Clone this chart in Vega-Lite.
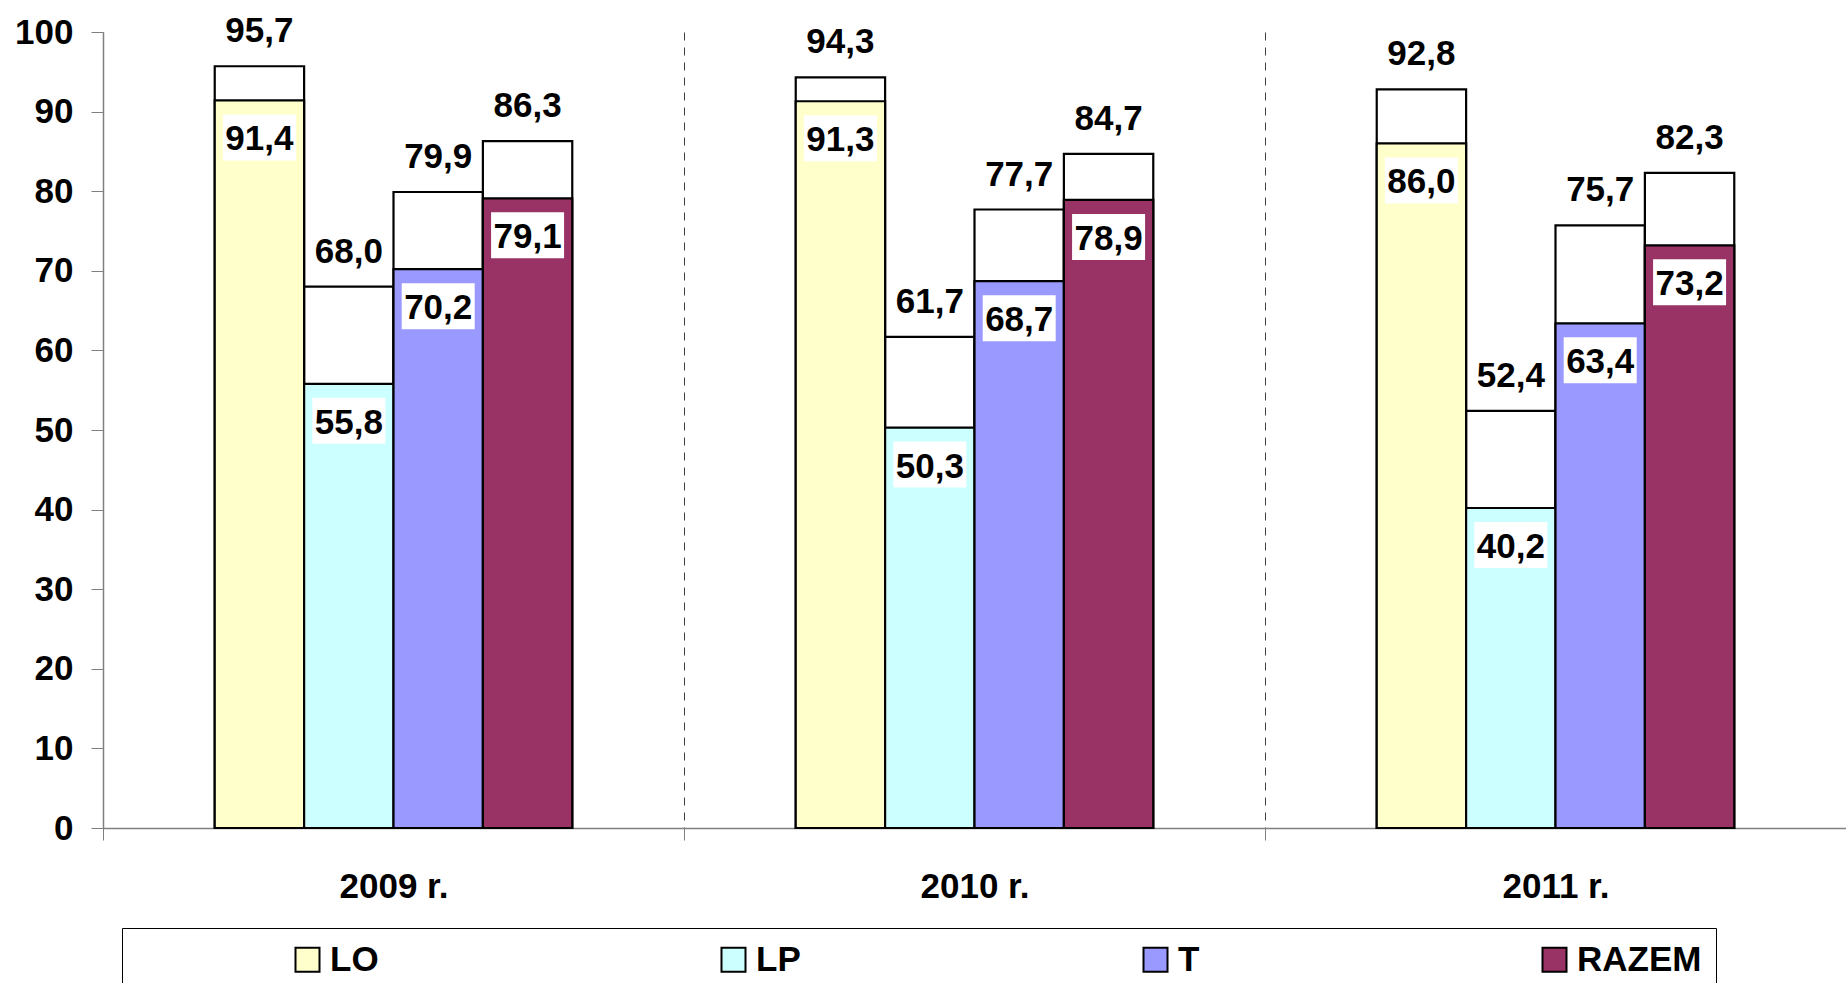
{
  "$schema": "https://vega.github.io/schema/vega-lite/v6.json",
  "autosize": {"type": "none"},
  "width": 1743,
  "height": 796,
  "padding": {"left": 103, "top": 32, "right": 0, "bottom": 155},
  "background": "white",
  "data": {"values": [
    {"year": "2009 r.", "cat": "LO", "low": 91.4, "high": 95.7},
    {"year": "2009 r.", "cat": "LP", "low": 55.8, "high": 68.0},
    {"year": "2009 r.", "cat": "T", "low": 70.2, "high": 79.9},
    {"year": "2009 r.", "cat": "RAZEM", "low": 79.1, "high": 86.3},
    {"year": "2010 r.", "cat": "LO", "low": 91.3, "high": 94.3},
    {"year": "2010 r.", "cat": "LP", "low": 50.3, "high": 61.7},
    {"year": "2010 r.", "cat": "T", "low": 68.7, "high": 77.7},
    {"year": "2010 r.", "cat": "RAZEM", "low": 78.9, "high": 84.7},
    {"year": "2011 r.", "cat": "LO", "low": 86.0, "high": 92.8},
    {"year": "2011 r.", "cat": "LP", "low": 40.2, "high": 52.4},
    {"year": "2011 r.", "cat": "T", "low": 63.4, "high": 75.7},
    {"year": "2011 r.", "cat": "RAZEM", "low": 73.2, "high": 82.3}
  ]},
  "encoding": {
    "x": {"field": "year", "type": "nominal", "title": null,
      "scale": {"paddingInner": 0, "paddingOuter": 0},
      "axis": {"labelAngle": 0, "tickBand": "extent", "grid": true, "gridDash": [8, 7], "gridColor": "#404040", "gridWidth": 1,
        "tickSize": 12, "tickColor": "#808080", "domainColor": "#808080", "domainWidth": 1.5, "labelPadding": 29,
        "labelFontSize": 35, "labelFontWeight": "bold", "labelColor": "black", "labelFont": "Liberation Sans"}},
    "xOffset": {"field": "cat", "type": "nominal",
      "scale": {"domain": ["_l", "LO", "LP", "T", "RAZEM", "_r"], "paddingInner": 0, "paddingOuter": 0.25}}
  },
  "layer": [
    {
      "mark": {"type": "bar", "fill": "white", "stroke": "black", "strokeWidth": 2.2},
      "encoding": {
        "y": {"field": "high", "type": "quantitative", "title": null,
          "scale": {"domain": [0, 100], "nice": false},
          "axis": {"values": [0, 10, 20, 30, 40, 50, 60, 70, 80, 90, 100], "grid": false, "tickSize": 12,
            "tickColor": "#808080", "domainColor": "#808080", "domainWidth": 1.5, "labelPadding": 18,
            "labelFontSize": 35, "labelFontWeight": "bold", "labelColor": "black", "labelFont": "Liberation Sans"}},
        "y2": {"datum": 0}
      }
    },
    {
      "mark": {"type": "bar", "stroke": "black", "strokeWidth": 2.2},
      "encoding": {
        "y": {"field": "low", "type": "quantitative"},
        "y2": {"datum": 0},
        "color": {"field": "cat", "type": "nominal",
          "scale": {"domain": ["LO", "LP", "T", "RAZEM"], "range": ["#FFFFCC", "#CCFFFF", "#9999FF", "#993366"]},
          "legend": {
            "title": " ", "titleOrient": "left", "titleFontSize": 1, "titlePadding": 154,
            "orient": "none", "legendX": 19, "legendY": 896, "direction": "horizontal", "columns": 4,
            "columnPadding": 337, "gridAlign": "each", "padding": 14,
            "strokeColor": "black", "fillColor": "white",
            "symbolType": "square", "symbolSize": 576, "symbolStrokeColor": "black", "symbolStrokeWidth": 2, "symbolOpacity": 1,
            "labelFontSize": 35, "labelFontWeight": "bold", "labelColor": "black", "labelFont": "Liberation Sans", "labelOffset": 5,
            "labelExpr": "datum.label == 'RAZEM' ? 'RAZEM\u00a0\u00a0\u00a0\u00a0\u00a0\u00a0\u00a0\u00a0\u00a0\u00a0\u00a0\u00a0\u00a0\u00a0\u00a0\u00a0\u00a0\u00a0' : datum.label"
          }}
      }
    },
    {
      "mark": {"type": "bar", "fill": "white", "width": 73, "yOffset": 14, "y2Offset": 60},
      "encoding": {
        "y": {"field": "low", "type": "quantitative"},
        "y2": {"field": "low"}
      }
    },
    {
      "mark": {"type": "text", "font": "Liberation Sans", "fontSize": 35, "fontWeight": "bold", "color": "black", "baseline": "alphabetic", "dy": 50},
      "encoding": {
        "y": {"field": "low", "type": "quantitative"},
        "text": {"field": "low", "type": "quantitative", "format": ".1f"}
      }
    },
    {
      "mark": {"type": "text", "font": "Liberation Sans", "fontSize": 35, "fontWeight": "bold", "color": "black", "baseline": "alphabetic", "dy": -24},
      "encoding": {
        "y": {"field": "high", "type": "quantitative"},
        "text": {"field": "high", "type": "quantitative", "format": ".1f"}
      }
    }
  ],
  "config": {
    "view": {"stroke": null},
    "locale": {"number": {"decimal": ",", "thousands": " ", "grouping": [3], "currency": ["", " zł"]}}
  }
}
